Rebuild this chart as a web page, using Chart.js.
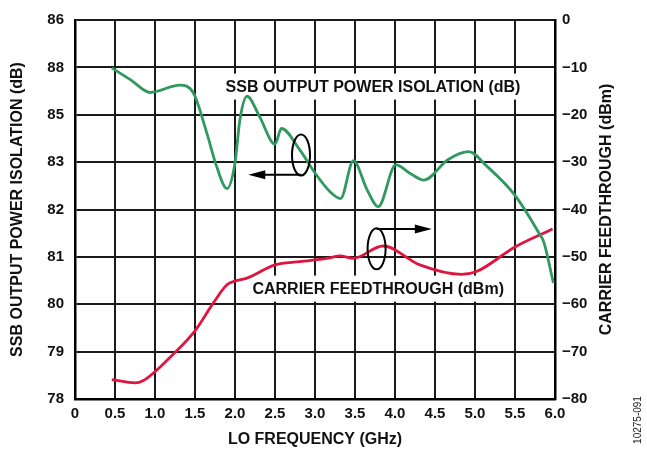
<!DOCTYPE html>
<html>
<head>
<meta charset="utf-8">
<script src="https://cdn.jsdelivr.net/npm/chart.js@4/dist/chart.umd.min.js"></script>
<style>
html,body{margin:0;padding:0;background:#fff;}
#wrap{width:647px;height:459px;position:relative;}
</style>
</head>
<body>
<div id="wrap"><canvas id="c" width="647" height="459"></canvas></div>
<script>
// LO frequency (GHz) and SSB output power isolation (plotted on the right dBm grid)
const isoFreq = [0.46, 0.7, 0.94, 1.31, 1.48, 1.65, 1.77, 1.9, 2.0, 2.06, 2.15, 2.31, 2.5, 2.58, 2.81, 3.0, 3.19, 3.32, 3.48, 3.65, 3.79, 4.01, 4.2, 4.36, 4.66, 4.92, 5.15, 5.5, 5.79, 5.86, 5.98];
const isoVals = [-10.1, -12.7, -15.3, -13.75, -15.4, -24.0, -30.9, -35.6, -30.2, -21.2, -16.1, -20.5, -26.2, -22.9, -27.4, -32.3, -36.3, -37.7, -29.7, -35.8, -39.4, -30.6, -32.5, -33.8, -29.5, -27.8, -30.9, -37.0, -44.7, -46.9, -55.5];
// Carrier feedthrough (dBm)
const cfFreq = [0.46, 0.75, 0.875, 1.23, 1.5, 1.73, 1.9, 2.0, 2.15, 2.5, 2.81, 3.19, 3.31, 3.48, 3.85, 4.31, 4.83, 5.02, 5.5, 5.97];
const cfVals = [-75.9, -76.6, -75.9, -70.5, -65.6, -59.7, -55.9, -55.1, -54.5, -51.7, -51.0, -50.2, -49.8, -50.3, -47.7, -51.7, -53.7, -53.1, -47.9, -44.1];
// Tick labels
const leftTickLabels = ['78', '79', '80', '81', '82', '83', '85', '88', '86']; // bottom to top
const xTitle = 'LO FREQUENCY (GHz)';
const leftTitle = 'SSB OUTPUT POWER ISOLATION (dB)';
const rightTitle = 'CARRIER FEEDTHROUGH (dBm)';
const isoLabel = 'SSB OUTPUT POWER ISOLATION (dB)';
const cfLabel = 'CARRIER FEEDTHROUGH (dBm)';
const figId = '10275-091';

const FONT = '"Liberation Sans", Arial, sans-serif';
const TXT = '#111';

const toPts = (xs, ys) => xs.map((x, i) => ({x: x, y: ys[i]}));

const annot = {
  id: 'annot',
  beforeDatasetsDraw(chart) {
    const ctx = chart.ctx, x = chart.scales.x, y = chart.scales.y2;
    ctx.save();
    ctx.font = 'bold 16px ' + FONT;
    ctx.textAlign = 'center';
    ctx.textBaseline = 'middle';
    const labels = [[isoLabel, 3.725, -14.06], [cfLabel, 3.79, -56.7]];
    labels.forEach(([t, fx, fy]) => {
      const px = x.getPixelForValue(fx), py = y.getPixelForValue(fy);
      const w = ctx.measureText(t).width + 10;
      ctx.fillStyle = '#fff';
      ctx.fillRect(px - w / 2, py - 13, w, 26);
      ctx.fillStyle = TXT;
      ctx.fillText(t, px, py + 1);
    });
    ctx.restore();
  },
  afterDatasetsDraw(chart) {
    const ctx = chart.ctx, x = chart.scales.x, y = chart.scales.y2;
    ctx.save();
    ctx.strokeStyle = '#000';
    ctx.fillStyle = '#000';
    ctx.lineWidth = 2;
    const ell = (fx, fy) => {
      const px = x.getPixelForValue(fx), py = y.getPixelForValue(fy);
      ctx.beginPath();
      ctx.ellipse(px, py, 9, 20.5, 0, 0, Math.PI * 2);
      ctx.stroke();
    };
    const arrow = (fx1, fx2, fy) => {
      const x1 = x.getPixelForValue(fx1), x2 = x.getPixelForValue(fx2), py = y.getPixelForValue(fy);
      const dir = Math.sign(x2 - x1);
      ctx.beginPath();
      ctx.moveTo(x1, py);
      ctx.lineTo(x2 - dir * 14, py);
      ctx.stroke();
      ctx.beginPath();
      ctx.moveTo(x2, py);
      ctx.lineTo(x2 - dir * 17, py - 4.5);
      ctx.lineTo(x2 - dir * 17, py + 4.5);
      ctx.closePath();
      ctx.fill();
    };
    ell(2.825, -28.5);
    arrow(2.825, 2.166, -32.65);
    ell(3.77, -48.3);
    arrow(3.77, 4.46, -44.1);
    ctx.restore();
  },
  afterDraw(chart) {
    const ctx = chart.ctx, ca = chart.chartArea;
    ctx.save();
    ctx.fillStyle = TXT;
    ctx.textAlign = 'center';
    ctx.textBaseline = 'middle';
    ctx.font = 'bold 16px ' + FONT;
    ctx.translate(607, (ca.top + ca.bottom) / 2);
    ctx.rotate(-Math.PI / 2);
    ctx.fillText(rightTitle, 0, 0);
    ctx.restore();
    ctx.save();
    ctx.fillStyle = '#222';
    ctx.textAlign = 'center';
    ctx.textBaseline = 'middle';
    ctx.font = '10px ' + FONT;
    ctx.translate(638, 420);
    ctx.rotate(-Math.PI / 2);
    ctx.fillText(figId, 0, 0);
    ctx.restore();
  }
};

new Chart(document.getElementById('c'), {
  type: 'line',
  data: {
    datasets: [
      {label: 'SSB', data: toPts(isoFreq, isoVals), yAxisID: 'y2', borderColor: '#2f9960', borderWidth: 2.8, pointRadius: 0, cubicInterpolationMode: 'monotone', fill: false},
      {label: 'CF', data: toPts(cfFreq, cfVals), yAxisID: 'y2', borderColor: '#e0153f', borderWidth: 2.8, pointRadius: 0, cubicInterpolationMode: 'monotone', fill: false}
    ]
  },
  options: {
    responsive: false,
    animation: false,
    events: [],
    layout: {padding: {top: 15, left: 0, right: 0, bottom: 0}},
    plugins: {legend: {display: false}, tooltip: {enabled: false}},
    scales: {
      x: {
        type: 'linear', min: 0, max: 6,
        afterFit: s => { s.height = 60; },
        ticks: {stepSize: 0.5, padding: 6, color: TXT, font: {family: FONT, size: 15, weight: 'bold'}, maxRotation: 0,
          callback: v => v === 0 ? '0' : v.toFixed(1)},
        grid: {color: '#1a1a1a', lineWidth: 2, drawTicks: false},
        border: {color: '#000', width: 2.5},
        title: {display: true, text: xTitle, color: TXT, font: {family: FONT, size: 16, weight: 'bold'}, padding: {top: 9.5, bottom: 9.5}}
      },
      y: {
        position: 'left', min: -80, max: 0,
        afterFit: s => { s.width = 75; },
        ticks: {stepSize: 10, padding: 11, color: TXT, font: {family: FONT, size: 15, weight: 'bold'},
          callback: (v, i) => leftTickLabels[i]},
        grid: {color: '#1a1a1a', lineWidth: 2, drawTicks: false},
        border: {color: '#000', width: 2.5},
        title: {display: true, text: leftTitle, color: TXT, font: {family: FONT, size: 16, weight: 'bold'}, padding: {top: 7.5, bottom: 7.5}}
      },
      y2: {
        position: 'right', min: -80, max: 0,
        afterFit: s => { s.width = 92; },
        ticks: {stepSize: 10, padding: 7, color: TXT, font: {family: FONT, size: 15, weight: 'bold'},
          callback: v => v === 0 ? '0' : '\u2212' + Math.abs(v)},
        grid: {drawOnChartArea: false, drawTicks: false},
        border: {color: '#000', width: 2.5}
      }
    }
  },
  plugins: [annot]
});
</script>
</body>
</html>
